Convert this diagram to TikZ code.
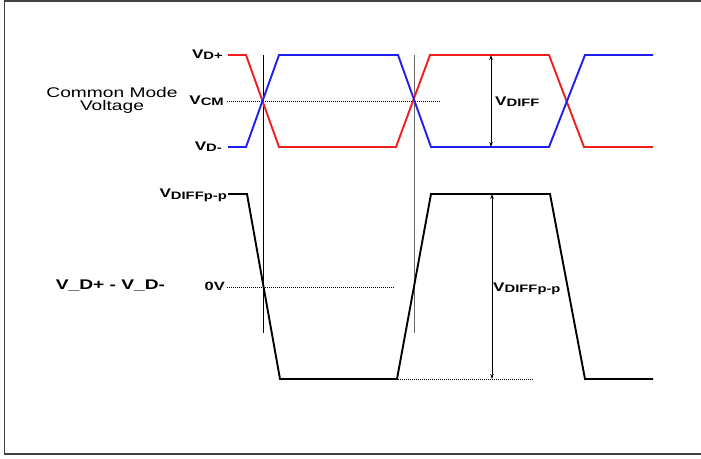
\documentclass[tikz,border=0pt]{standalone}
\usepackage{fontspec}
\setmainfont{Liberation Sans}[FakeStretch=1.37]
\usetikzlibrary{arrows.meta}
\definecolor{wred}{RGB}{240,30,30}
\definecolor{wblue}{RGB}{30,30,240}
\definecolor{framec}{RGB}{64,64,64}
\newcommand{\vsub}[1]{{\bfseries\fontsize{12.5}{12.5}\selectfont V\raisebox{-1.8pt}{\fontsize{10.8}{10.8}\selectfont #1}}}
\begin{document}
\begin{tikzpicture}[x=1pt,y=-1pt,
  wave/.style={line width=1.9pt,line join=miter},
  redwave/.style={wave,draw=wred},
  bluewave/.style={wave,draw=wblue},
  blackwave/.style={wave,draw=black},
  guide/.style={line width=0.6pt,draw=black},
  dotline/.style={line width=0.6pt,draw=black,dash pattern=on 1pt off 1pt},
  meas/.style={line width=0.8pt,draw=black,{Stealth[length=5pt,width=3.5pt]}-{Stealth[length=5pt,width=3.5pt]}},
  lab/.style={inner sep=0pt,anchor=base east},
  big/.style={inner sep=0pt,font=\fontsize{14}{13}\selectfont,align=center}
]
\useasboundingbox (0,0) rectangle (701,458);
\draw[framec,line width=1.5pt] (701,1) -- (4.5,1) -- (4.5,454) -- (701,454);

% labels
\node[lab] (vdp) at (223,58) {\vsub{D+}};
\node[lab] (vcm) at (224,104) {\vsub{CM}};
\node[lab] (vdm) at (222,150) {\vsub{D-}};
\node[lab] (vpp) at (227,197.5) {\vsub{DIFFp-p}};
\node[lab] (zv) at (225,290) {\bfseries\fontsize{12}{12}\selectfont 0V};
\node[big] (cmv) at (112,100) {Common Mode\\Voltage};
\node[big,anchor=base,font=\fontsize{14}{14}\selectfont\bfseries] (diffl) at (110.5,289) {V\_D+ - V\_D-};

% coordinates
\coordinate (r0) at (228,55);  \coordinate (b0) at (228,147);
\coordinate (k0) at (228,194);
\coordinate (g1t) at (263,55); \coordinate (g1b) at (263,333);
\coordinate (g2t) at (414,55); \coordinate (g2b) at (414,333);
\coordinate (cmS) at (227,101); \coordinate (cmE) at (441,101);
\coordinate (zS) at (227,287); \coordinate (zE) at (394,287);
\coordinate (lowS) at (398,379); \coordinate (lowE) at (533,379);
\coordinate (a1t) at (491,55); \coordinate (a1b) at (491,147);
\coordinate (a2t) at (492,194); \coordinate (a2b) at (492,379);

% guides
\draw[guide] (g1t) -- (g1b);
\draw[guide,draw=black!60] (g2t) -- (g2b);
\draw[dotline] (cmS) -- (cmE);
\draw[dotline] (zS) -- (zE);
\draw[dotline] (lowS) -- (lowE);

% waveforms
\draw[redwave] (r0) -- (246,55) -- (279,147) -- (396,147) -- (430,55) -- (549,55) -- (584,147) -- (653,147);
\draw[bluewave] (b0) -- (246,147) -- (279,55) -- (398,55) -- (431,147) -- (549,147) -- (585,55) -- (653,55);
\draw[blackwave] (k0) -- (247,194) -- (280,379) -- (397,379) -- (431,194) -- (550,194) -- (585,379) -- (653,379);

% measurements
\draw[meas] (a1t) -- (a1b);
\draw[meas] (a2t) -- (a2b);
\node[lab,anchor=base west] (vdl) at (495,105) {\vsub{DIFF}};
\node[lab,anchor=base west] (vppl) at (493,291) {\vsub{DIFFp-p}};
\end{tikzpicture}
\end{document}
